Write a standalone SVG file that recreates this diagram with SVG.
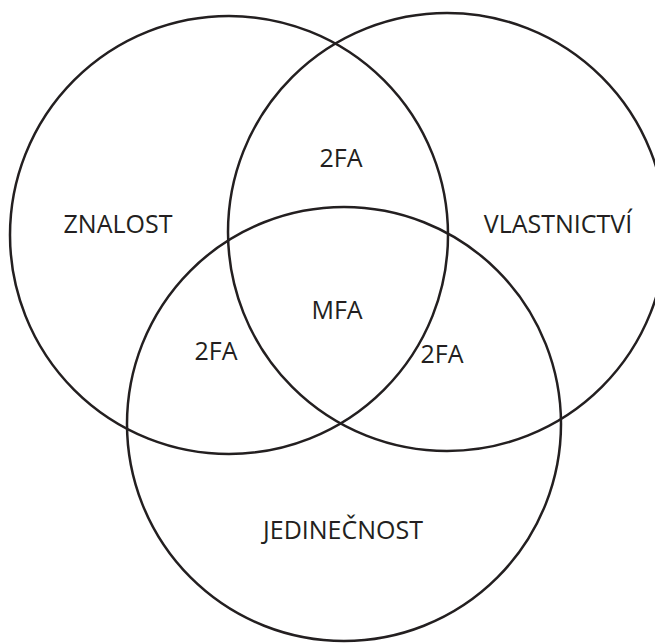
<svg xmlns="http://www.w3.org/2000/svg" width="655" height="644" viewBox="0 0 655 644">
<style>
.c{fill:none;stroke:#231f20;stroke-width:2.5}
.t{font-family:"Open Sans","Noto Sans",sans-serif;font-size:25px;fill:#231f20;text-anchor:middle}
</style>
<rect width="655" height="644" fill="#fff"/>
<g id="znalost"><circle class="c" cx="229" cy="235" r="219"/><text class="t" x="118" y="233">ZNALOST</text></g>
<g id="vlastnictvi"><circle class="c" cx="447" cy="232" r="219"/><text class="t" x="558" y="233">VLASTNICTVÍ</text></g>
<g id="jedinecnost"><circle class="c" cx="344" cy="424" r="217"/><text class="t" x="343" y="539">JEDINEČNOST</text></g>
<g id="labels">
<text class="t" x="341" y="167">2FA</text>
<text class="t" x="337" y="319">MFA</text>
<text class="t" x="216" y="360">2FA</text>
<text class="t" x="442" y="363">2FA</text>
</g>
</svg>
